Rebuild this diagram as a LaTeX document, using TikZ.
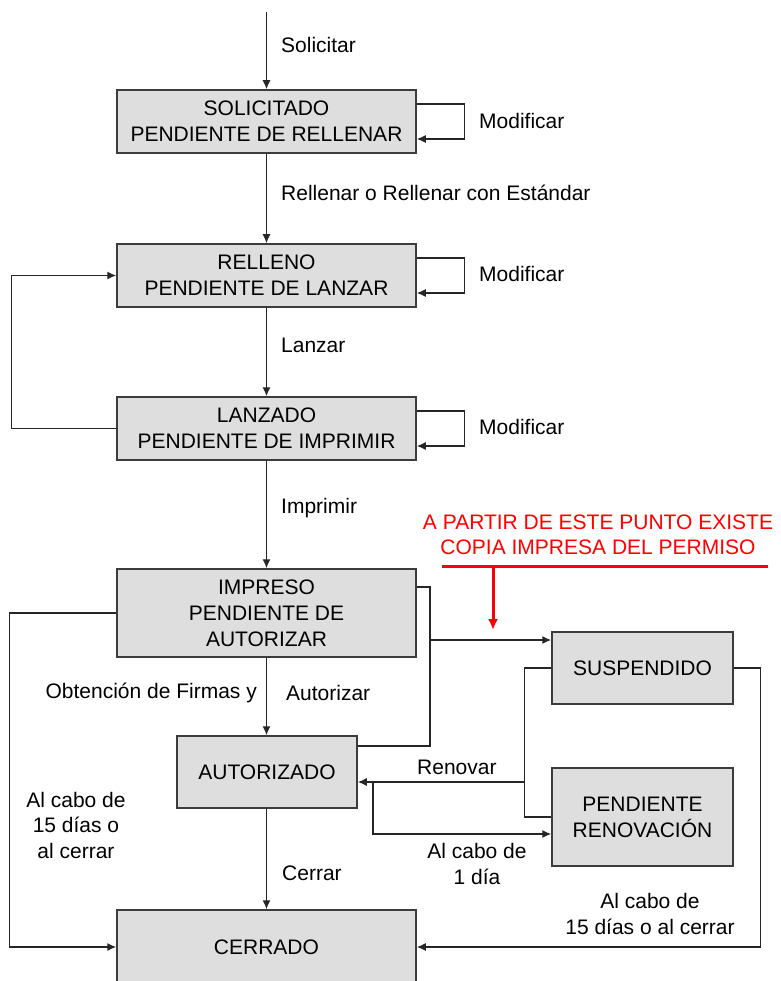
\documentclass[tikz,border=0pt]{standalone}
\usepackage{fontspec}
\setmainfont{Liberation Sans}
\usetikzlibrary{arrows.meta}
\definecolor{cajagris}{HTML}{DEDEDE}
\definecolor{bordegris}{HTML}{3C3C3C}
\definecolor{rojoaviso}{HTML}{FF0000}
\tikzset{
  estado/.style={draw=bordegris, line width=1.5pt, fill=cajagris, align=center, inner sep=0pt, font=\fontsize{21}{26}\selectfont},
  etiq/.style={inner sep=0pt, align=center, font=\fontsize{21}{25.5}\selectfont},
  flecha/.style={draw=black!85, line width=1.4pt, -{Latex[length=9pt,width=8pt]}},
  linea/.style={draw=black!85, line width=1.4pt},
}
\begin{document}
\begin{tikzpicture}[x=1pt,y=-1pt]
\useasboundingbox (0,0) rectangle (780,981);
	\node[estado, minimum width=299, minimum height=63] (solicitado) at (266.5,121.5) {SOLICITADO\\PENDIENTE DE RELLENAR};
	\node[estado, minimum width=299, minimum height=63] (relleno) at (266.5,275.5) {RELLENO\\PENDIENTE DE LANZAR};
	\node[estado, minimum width=299, minimum height=63] (lanzado) at (266.5,428.5) {LANZADO\\PENDIENTE DE IMPRIMIR};
	\node[estado, minimum width=299, minimum height=88] (impreso) at (266.5,613) {IMPRESO\\PENDIENTE DE\\AUTORIZAR};
	\node[estado, minimum width=180, minimum height=72] (autorizado) at (267,772) {AUTORIZADO};
	\node[estado, minimum width=299, minimum height=74] (cerrado) at (266.5,947) {CERRADO};
	\node[estado, minimum width=181, minimum height=72] (suspendido) at (642.5,668) {SUSPENDIDO};
	\node[estado, minimum width=181, minimum height=98] (pendren) at (642.5,817) {PENDIENTE\\RENOVACIÓN};

	\coordinate (inicio) at (266.5,12);
	\draw[flecha] (inicio) -- (solicitado.north);
	\draw[flecha] (solicitado.south) -- (relleno.north);
	\draw[flecha] (relleno.south) -- (lanzado.north);
	\draw[flecha] (lanzado.south) -- (impreso.north);
	\draw[flecha] (impreso.south) -- (autorizado.north -| impreso.south);
	\draw[flecha] (autorizado.south -| impreso.south) -- (cerrado.north);

	\foreach \E in {solicitado,relleno,lanzado}
		\draw[flecha] ([yshift=17.5pt]\E.east) -- ++(48,0) |- ([yshift=-17.5pt]\E.east);
	\draw[flecha] (lanzado.west) -- ++(-105,0) |- (relleno.west);
	\draw[flecha] (impreso.west) -- ++(-107,0) |- (cerrado.west);

	\coordinate (bif) at (430,640);
	\draw[linea] ([yshift=26pt]impreso.east) -| (bif) |- ([yshift=26pt]autorizado.east);
	\draw[flecha] (bif) -- (suspendido.west |- bif);
	\draw[linea] (suspendido.west) -- ++(-27,0) |- (pendren.west);
	\coordinate (ren) at (525,782);
	\draw[flecha] (ren) -- (autorizado.east |- ren);
	\coordinate (venc) at (373,782);
	\draw[flecha] (venc) |- ([yshift=-17pt]pendren.west);
	\draw[flecha] (suspendido.east) -- ++(27,0) |- (cerrado.east);

	% aviso
	\node[etiq, text=rojoaviso] (aviso) at (598,535) {A PARTIR DE ESTE PUNTO EXISTE\\COPIA IMPRESA DEL PERMISO};
	\coordinate (rojoA) at (442,566);
	\coordinate (rojoB) at (768,566);
	\coordinate (rojoC) at (493,566);
	\draw[rojoaviso, line width=3pt] (rojoA) -- (rojoB);
	\draw[rojoaviso, line width=3pt, -{Latex[length=11pt,width=10pt]}] (rojoC) -- ++(0,64);

	\node[etiq, anchor=west] (lsol) at (281,45) {Solicitar};
	\node[etiq, anchor=west] (lrel) at (281,193) {Rellenar o Rellenar con Estándar};
	\node[etiq, anchor=west] (llan) at (281,345) {Lanzar};
	\node[etiq, anchor=west] (limp) at (281,508) {Imprimir};
	\node[etiq, anchor=west] (lmod1) at (479,121) {Modificar};
	\node[etiq, anchor=west] (lmod2) at (479,274) {Modificar};
	\node[etiq, anchor=west] (lmod3) at (479,427) {Modificar};
	\node[etiq, anchor=east] (lfir) at (257,693) {Obtención de Firmas y};
	\node[etiq, anchor=west] (laut) at (286,693) {Autorizar};
	\node[etiq] (lcab1) at (76,825) {Al cabo de\\15 días o\\al cerrar};
	\node[etiq, anchor=west] (lren) at (417,767) {Renovar};
	\node[etiq] (lcab2) at (477,864) {Al cabo de\\1 día};
	\node[etiq] (lcab3) at (650,914) {Al cabo de\\15 días o al cerrar};
	\node[etiq, anchor=west] (lcer) at (282,873) {Cerrar};
\end{tikzpicture}
\end{document}
